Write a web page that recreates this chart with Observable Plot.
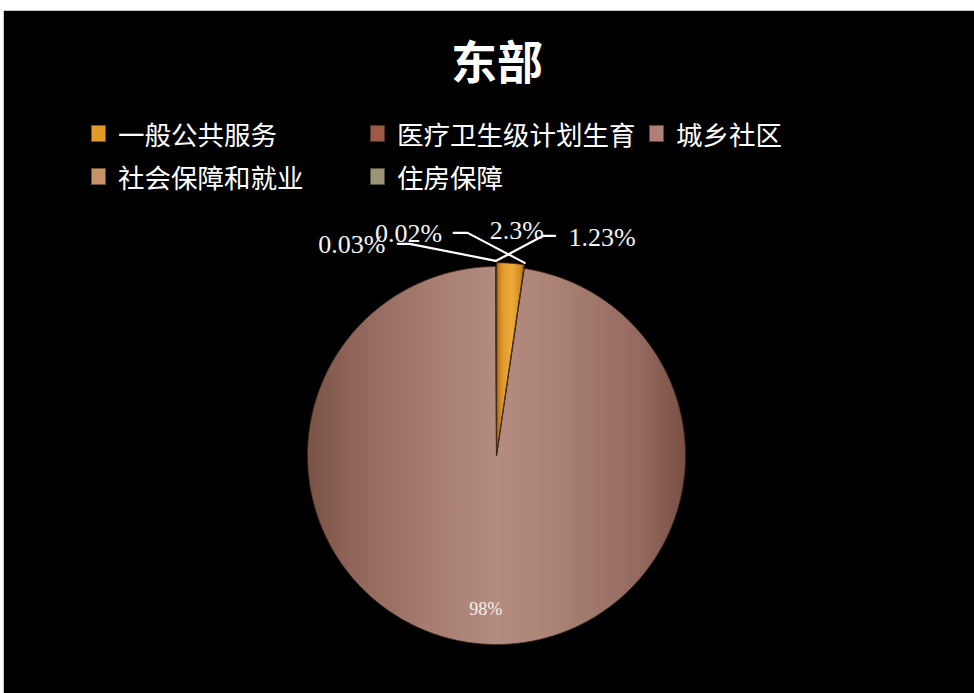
<!DOCTYPE html>
<html><head><meta charset="utf-8">
<script src="https://cdn.jsdelivr.net/npm/d3@7"></script>
<script src="https://cdn.jsdelivr.net/npm/@observablehq/plot@0.6"></script>
<style>
html,body{margin:0;padding:0;background:#fff;width:974px;height:693px;overflow:hidden}
#frame{position:absolute;left:4px;top:11px;width:970px;height:682px;background:#000;box-shadow:0 -1px 0 #c8c8c8,-1px 0 0 #c8c8c8}
#title{position:absolute;left:16px;width:954px;top:20px;text-align:center;color:#fff;font:bold 46px "Noto Sans CJK SC";line-height:56px}
#legend{position:absolute;left:87px;top:101px;display:grid;grid-template-columns:279px 279px 279px;grid-auto-rows:43px}
.item{display:flex;align-items:center;color:#fff;font:26.5px "Noto Sans CJK SC";white-space:nowrap}
.sw{width:15px;height:17px;margin-right:12px;box-sizing:border-box;border:1px solid rgba(0,0,0,0.45)}
#chart{position:absolute;left:0;top:189px}
</style></head>
<body>
<div id="frame">
  <div id="title">东部</div>
  <div id="legend"></div>
  <div id="chart"></div>
</div>
<script>
// ---- data ----
const title = "东部";
const categories = ["一般公共服务", "医疗卫生级计划生育", "城乡社区", "社会保障和就业", "住房保障"];
const shares = [2.3, 0.02, 97.6, 0.03, 0.05];          // slice sizes (%) as seen in the picture
const shareLabels = ["2.3%", "0.02%", "98%", "0.03%", "1.23%"];

// ---- styles ----
const swatchColors = ["#e39a26", "#9e5a46", "#b08078", "#c49468", "#9c9474"];
const sliceFills = ["url(#gOrange)", "#9e5a46", "url(#gPink)", "#c49468", "#9c9474"];
const explode = [0.02, 0, 0, 0, 0];
// label layout: pixel offsets from slice rim anchor
const labelLayout = [
  {t: [6, -27], line: null},
  {t: [-116, -29], line: [[-57, -30], [-71, -30]]},
  null, // inside label
  {t: [-144, -16], line: [[-86, -17], [-98, -17]]},
  {t: [106, -23], line: [[47, -25], [59, -25]]}
];

// legend
const legend = document.getElementById("legend");
categories.forEach((c, i) => {
  const it = document.createElement("div");
  it.className = "item";
  if (i === 3) it.style.gridColumn = "1";
  it.innerHTML = `<span class="sw" style="background:${swatchColors[i]}"></span><span>${c}</span>`;
  legend.appendChild(it);
});

const R = 189, cx = 492, cy = 255;
const arcs = d3.pie().sort(null).value(d => d)(shares);

// slice polygons
const slicePts = [];
const drawOrder = [2, 1, 3, 4, 0];
for (const i of drawOrder) {
  const a = arcs[i];
  const mid = (a.startAngle + a.endAngle) / 2;
  const ox = explode[i] * Math.sin(mid), oy = explode[i] * Math.cos(mid);
  const full = a.endAngle - a.startAngle > 6.28;
  if (!full) slicePts.push({name: categories[i], fill: sliceFills[i], x: ox, y: oy});
  const n = Math.max(2, Math.ceil((a.endAngle - a.startAngle) / 0.005));
  for (let k = 0; k <= n; k++) {
    const t = a.startAngle + (a.endAngle - a.startAngle) * k / n;
    slicePts.push({name: categories[i], fill: sliceFills[i], x: ox + Math.sin(t), y: oy + Math.cos(t)});
  }
}

// labels & leaders
const outerLabels = [], leaderPts = [], innerLabels = [];
arcs.forEach((a, i) => {
  const mid = (a.startAngle + a.endAngle) / 2;
  if (!labelLayout[i]) {
    innerLabels.push({x: 0.815 * Math.sin(mid), y: 0.815 * Math.cos(mid), text: shareLabels[i]});
    return;
  }
  const r = 1.03 + explode[i];
  const ax = r * Math.sin(mid), ay = r * Math.cos(mid);
  const L = labelLayout[i];
  outerLabels.push({x: ax + L.t[0] / R, y: ay - L.t[1] / R, text: shareLabels[i]});
  if (L.line) {
    leaderPts.push({name: categories[i], x: ax, y: ay});
    for (const p of L.line) leaderPts.push({name: categories[i], x: ax + p[0] / R, y: ay - p[1] / R});
  }
});

const svg = Plot.plot({
  width: 970, height: 493, margin: 0,
  x: {domain: [-1, 1], range: [cx - R, cx + R], axis: null},
  y: {domain: [-1, 1], range: [cy + R, cy - R], axis: null},
  color: {type: "identity"},
  style: {background: "transparent", overflow: "visible"},
  marks: [
    Plot.line(slicePts, {x: "x", y: "y", z: "name", fill: "fill", stroke: "#3a261c", strokeWidth: 0.8, curve: "linear-closed"}),
    Plot.line(leaderPts, {x: "x", y: "y", z: "name", stroke: "#ffffff", strokeWidth: 2.2}),
    Plot.text(outerLabels, {x: "x", y: "y", text: "text", fill: "#f4f4f4", fontSize: 26, fontFamily: "Liberation Serif"}),
    Plot.text(innerLabels, {x: "x", y: "y", text: "text", fill: "#f6f0ea", fontSize: 18, fontFamily: "Liberation Serif"})
  ]
});

const defs = d3.select(svg).insert("defs", ":first-child");
const gp = defs.append("linearGradient").attr("id", "gPink").attr("gradientUnits", "userSpaceOnUse")
  .attr("x1", cx - R).attr("x2", cx + R).attr("y1", 0).attr("y2", 0);
[[0, "#7a5246"], [0.12, "#8f6659"], [0.35, "#a97f73"], [0.5, "#b38b7f"], [0.65, "#ab8276"], [0.88, "#946a5e"], [1, "#7a5044"]]
  .forEach(([o, c]) => gp.append("stop").attr("offset", o).attr("stop-color", c));
const go = defs.append("linearGradient").attr("id", "gOrange").attr("x1", 0).attr("x2", 1).attr("y1", 0).attr("y2", 0);
[[0, "#b06c16"], [0.2, "#e09a2c"], [0.55, "#efaa3a"], [0.85, "#d38e24"], [1, "#a86414"]]
  .forEach(([o, c]) => go.append("stop").attr("offset", o).attr("stop-color", c));

document.getElementById("chart").appendChild(svg);
</script>
</body></html>
